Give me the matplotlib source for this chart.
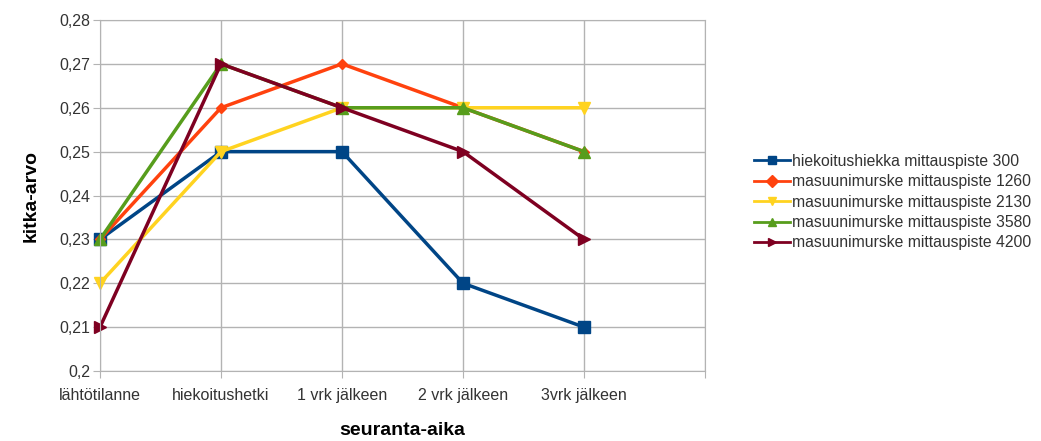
import matplotlib.pyplot as plt
import numpy as np

plt.rcParams['font.family'] = ['Liberation Sans', 'DejaVu Sans']

categories = ["lähtötilanne", "hiekoitushetki", "1 vrk jälkeen", "2 vrk jälkeen", "3vrk jälkeen"]
series_names = ["hiekoitushiekka mittauspiste 300",
                "masuunimurske mittauspiste 1260",
                "masuunimurske mittauspiste 2130",
                "masuunimurske mittauspiste 3580",
                "masuunimurske mittauspiste 4200"]
hiekka_300 = [0.23, 0.25, 0.25, 0.22, 0.21]
murske_1260 = [0.23, 0.26, 0.27, 0.26, 0.25]
murske_2130 = [0.22, 0.25, 0.26, 0.26, 0.26]
murske_3580 = [0.23, 0.27, 0.26, 0.26, 0.25]
murske_4200 = [0.21, 0.27, 0.26, 0.25, 0.23]

colors = ["#004586", "#ff420e", "#ffd320", "#579d1c", "#7e0021"]
markers = ["s", "D", "v", "^", ">"]
msizes = [9, 5, 8, 8, 8]

fig = plt.figure(figsize=(10.41, 4.41), dpi=100)
ax = fig.add_axes([100/1041, 1 - 371/441, 605/1041, 351/441])

x = np.arange(len(categories))
data = [hiekka_300, murske_1260, murske_2130, murske_3580, murske_4200]
for vals, name, c, m, ms in zip(data, series_names, colors, markers, msizes):
    ax.plot(x, vals, color=c, marker=m, markersize=ms, lw=2.5, label=name, clip_on=False)

ax.set_xlim(0, 5)
ax.set_ylim(0.2, 0.28)
ax.set_xticks(np.arange(6))
ax.set_xticklabels(categories + [""])
yt = np.arange(0.2, 0.2801, 0.01)
ax.set_yticks(yt)
ax.set_yticklabels(["0,2"] + [("%.2f" % v).replace(".", ",") for v in yt[1:]])
ax.grid(True, color="#b3b3b3", lw=1)
ax.set_axisbelow(True)
for s in ax.spines.values():
    s.set_color("#b3b3b3")
ax.tick_params(axis="x", length=5, color="#b3b3b3", labelsize=11.5, labelcolor="#333333", pad=7)
ax.tick_params(axis="y", length=5, color="#b3b3b3", labelsize=11.5, labelcolor="#333333", pad=2)

ax.set_xlabel("seuranta-aika", fontsize=14, fontweight="bold", labelpad=14)
ax.set_ylabel("kitka-arvo", fontsize=14, fontweight="bold", labelpad=14)

leg = fig.legend(loc="center left", bbox_to_anchor=(748/1041, 1 - 202/441), frameon=False,
                 fontsize=11.3, handlelength=2.3, handletextpad=0.1, labelspacing=0.35,
                 borderaxespad=0)
for t in leg.get_texts():
    t.set_color("#333333")
for h in leg.legend_handles:
    h.set_markersize(6)
    h.set_linewidth(2)

fig.savefig("out.png", dpi=100)
